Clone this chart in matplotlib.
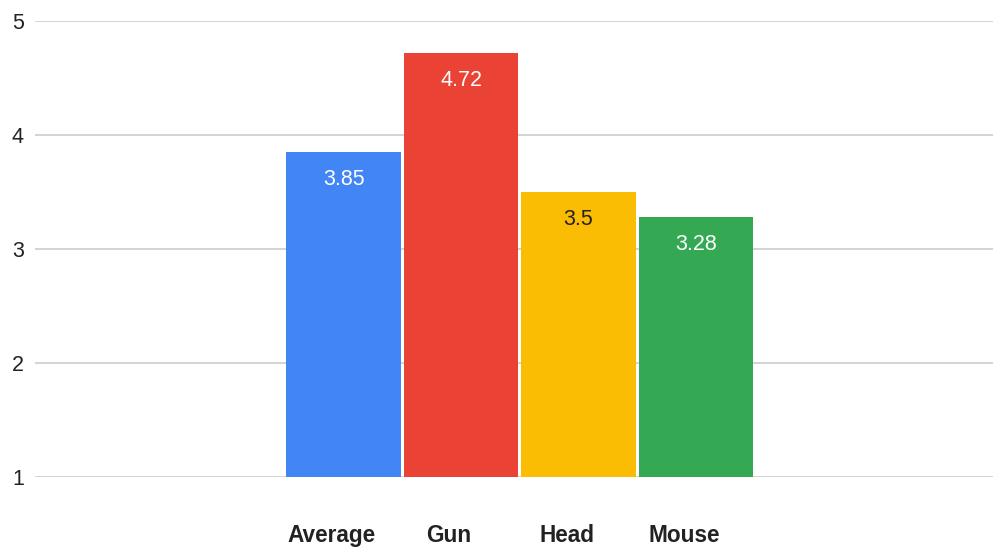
import matplotlib
matplotlib.use("Agg")
import matplotlib.pyplot as plt
import matplotlib.transforms as mtransforms

categories = ["Average", "Gun", "Head", "Mouse"]
scores = [3.85, 4.72, 3.5, 3.28]
value_labels = ["3.85", "4.72", "3.5", "3.28"]
y_ticks = [1, 2, 3, 4, 5]

bar_colors = ["#4285F4", "#EA4335", "#FBBC04", "#34A853"]
label_colors = ["#ffffff", "#ffffff", "#222222", "#ffffff"]

plt.rcParams["font.family"] = ["Liberation Sans", "DejaVu Sans"]

fig = plt.figure(figsize=(9.94, 5.47), dpi=100)
ax = fig.add_axes([35 / 994, 70 / 547, 958 / 994, 456 / 547])

base = 1
x = list(range(len(categories)))
bars = ax.bar(x, [v - base for v in scores], bottom=base, width=0.974,
              color=bar_colors, zorder=3)

for rect, lab, col in zip(bars, value_labels, label_colors):
    top = rect.get_y() + rect.get_height()
    ax.annotate(lab, (rect.get_x() + rect.get_width() / 2, top),
                xytext=(0, -12), textcoords="offset points",
                ha="center", va="top", fontsize=15.5, color=col, zorder=4)

ax.set_xlim(-2.626, 5.527)
ax.set_ylim(1, 5)
ax.set_yticks(y_ticks)
ax.set_yticklabels([str(t) for t in y_ticks], fontsize=15.5, color="#222222")
ax.set_xticks(x)
ax.set_xticklabels(categories, fontsize=16.3, fontweight="bold", color="#222222")

ax.grid(axis="y", color="#d3d3d3", linewidth=1.4, zorder=0)
ax.tick_params(axis="y", length=0, pad=8)
ax.tick_params(axis="x", length=0, pad=34)
for s in ax.spines.values():
    s.set_visible(False)

shift = mtransforms.ScaledTranslation(-12 / 100, 0, fig.dpi_scale_trans)
for t in ax.get_xticklabels():
    t.set_transform(t.get_transform() + shift)

fig.savefig("out.png", dpi=100, facecolor="white")
